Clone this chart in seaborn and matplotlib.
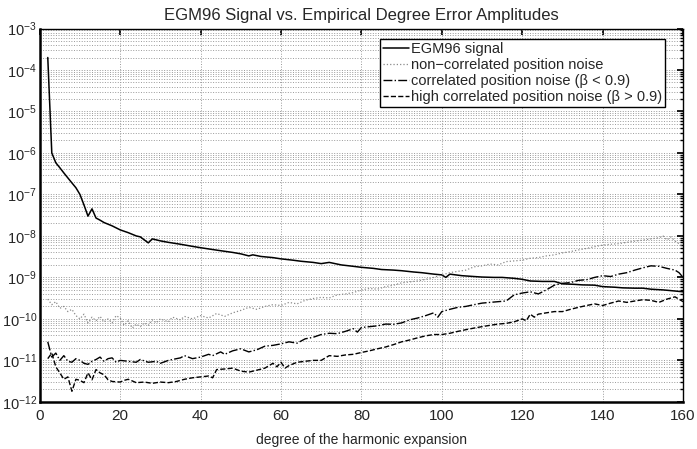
import numpy as np
import pandas as pd
import matplotlib
matplotlib.use("Agg")
import matplotlib.pyplot as plt
import seaborn as sns
from matplotlib.ticker import LogLocator, LogFormatterMathtext, NullFormatter

# ---- data (degree n, amplitude) ----
sig_deg = [2, 3, 4, 5, 6, 7, 8, 9, 10, 11, 12, 13, 14, 15, 16, 18, 20, 22, 24, 25, 27, 28,
           30, 32, 35, 38, 40, 43, 45, 48, 50, 52, 53, 55, 58, 60, 63, 65, 68, 70, 72, 75,
           78, 80, 83, 85, 88, 90, 93, 95, 98, 100, 101, 102, 105, 108, 110, 113, 115, 118,
           120, 122, 125, 128, 130, 133, 135, 138, 140, 143, 145, 148, 150, 152, 155, 157, 160]
sig_val = [2.0e-4, 1.0e-6, 5.8e-7, 4.4e-7, 3.3e-7, 2.5e-7, 1.9e-7, 1.45e-7, 1.0e-7, 5.6e-8,
           3.0e-8, 4.5e-8, 2.7e-8, 2.4e-8, 2.1e-8, 1.75e-8, 1.4e-8, 1.2e-8, 1.0e-8, 9.5e-9,
           6.8e-9, 8.5e-9, 7.6e-9, 7.0e-9, 6.3e-9, 5.6e-9, 5.2e-9, 4.7e-9, 4.4e-9, 4.0e-9,
           3.7e-9, 3.3e-9, 3.5e-9, 3.2e-9, 3.0e-9, 2.8e-9, 2.6e-9, 2.45e-9, 2.3e-9, 2.15e-9,
           2.3e-9, 2.0e-9, 1.85e-9, 1.75e-9, 1.65e-9, 1.55e-9, 1.5e-9, 1.45e-9, 1.35e-9,
           1.3e-9, 1.2e-9, 1.15e-9, 1.0e-9, 1.2e-9, 1.1e-9, 1.05e-9, 1.02e-9, 1.0e-9, 1.0e-9,
           9.5e-10, 9.0e-10, 8.2e-10, 8.0e-10, 8.0e-10, 7.0e-10, 6.8e-10, 6.6e-10, 6.5e-10,
           6.0e-10, 5.8e-10, 5.6e-10, 5.5e-10, 5.5e-10, 5.2e-10, 5.0e-10, 4.8e-10, 4.5e-10]

noise_deg = [2, 3, 4, 5, 6, 7, 8, 9, 10, 11, 12, 13, 14, 15, 16, 17, 18, 19, 20, 21, 22, 23,
             24, 25, 26, 27, 28, 29, 30, 32, 33, 35, 36, 38, 40, 42, 44, 46, 48, 50, 52, 54,
             56, 58, 60, 62, 64, 66, 68, 70, 72, 74, 76, 78, 80, 82, 84, 86, 88, 90, 92, 94,
             96, 98, 100, 102, 104, 106, 108, 110, 112, 114, 116, 118, 120, 122, 124, 126,
             128, 130, 132, 134, 136, 138, 140, 142, 144, 146, 148, 150, 152, 154, 155, 156,
             157, 158, 159, 160]
noise_val = [3.0e-10, 2.2e-10, 2.6e-10, 1.8e-10, 2.0e-10, 1.5e-10, 1.7e-10, 1.2e-10, 1.0e-10,
             1.3e-10, 8.0e-11, 1.1e-10, 9.0e-11, 1.15e-10, 8.5e-11, 1.0e-10, 8.0e-11, 1.2e-10,
             1.05e-10, 7.0e-11, 9.0e-11, 6.0e-11, 7.5e-11, 6.5e-11, 8.0e-11, 7.0e-11, 9.5e-11,
             8.0e-11, 1.0e-10, 8.5e-11, 1.1e-10, 9.5e-11, 1.15e-10, 1.0e-10, 1.2e-10, 1.05e-10,
             1.35e-10, 1.15e-10, 1.4e-10, 1.6e-10, 1.9e-10, 1.7e-10, 2.0e-10, 2.2e-10, 2.1e-10,
             2.5e-10, 2.3e-10, 2.8e-10, 3.1e-10, 3.3e-10, 3.2e-10, 3.8e-10, 4.0e-10, 4.3e-10,
             5.0e-10, 5.4e-10, 5.2e-10, 6.0e-10, 6.5e-10, 7.4e-10, 7.8e-10, 8.2e-10, 9.0e-10,
             1.0e-9, 1.15e-9, 1.3e-9, 1.4e-9, 1.5e-9, 1.8e-9, 1.9e-9, 2.1e-9, 2.0e-9, 2.4e-9,
             2.5e-9, 2.6e-9, 2.9e-9, 3.0e-9, 3.3e-9, 3.5e-9, 3.9e-9, 4.2e-9, 4.6e-9, 5.0e-9,
             5.5e-9, 6.0e-9, 6.3e-9, 6.5e-9, 7.0e-9, 7.5e-9, 7.9e-9, 8.5e-9, 9.0e-9, 1.0e-8,
             8.0e-9, 9.5e-9, 7.5e-9, 6.5e-9, 5.5e-9]

corr_deg = [2, 3, 4, 5, 6, 7, 8, 9, 10, 11, 12, 13, 14, 15, 16, 17, 18, 19, 20, 22, 24, 25,
            27, 29, 30, 32, 33, 35, 36, 38, 40, 42, 43, 45, 46, 48, 50, 52, 54, 56, 58, 60,
            62, 64, 66, 68, 70, 72, 74, 76, 78, 79, 80, 82, 84, 86, 88, 90, 92, 94, 96, 98,
            99, 100, 102, 104, 106, 108, 110, 112, 114, 116, 118, 120, 122, 124, 126, 128,
            130, 132, 134, 136, 138, 140, 142, 144, 146, 148, 150, 152, 154, 156, 158, 159, 160]
corr_val = [2.8e-11, 1.2e-11, 1.5e-11, 1.0e-11, 1.3e-11, 9.5e-12, 9.0e-12, 1.1e-11, 1.0e-11,
            8.5e-12, 8.0e-12, 9.5e-12, 1.05e-11, 1.2e-11, 9.5e-12, 1.1e-11, 1.15e-11, 9.0e-12,
            1.0e-11, 9.5e-12, 9.0e-12, 1.05e-11, 9.0e-12, 9.5e-12, 8.5e-12, 1.0e-11, 1.05e-11,
            1.15e-11, 1.3e-11, 1.1e-11, 1.2e-11, 1.4e-11, 1.3e-11, 1.6e-11, 1.4e-11, 1.7e-11,
            1.9e-11, 1.6e-11, 1.8e-11, 2.2e-11, 2.3e-11, 2.5e-11, 2.8e-11, 2.6e-11, 3.3e-11,
            3.6e-11, 4.2e-11, 4.5e-11, 4.4e-11, 5.0e-11, 5.8e-11, 4.8e-11, 6.2e-11, 6.5e-11,
            6.8e-11, 7.5e-11, 7.4e-11, 8.0e-11, 9.5e-11, 1.05e-10, 1.2e-10, 1.4e-10, 1.1e-10,
            1.5e-10, 1.7e-10, 1.9e-10, 2.0e-10, 2.2e-10, 2.4e-10, 2.5e-10, 2.6e-10, 2.7e-10,
            3.8e-10, 4.2e-10, 4.5e-10, 4.0e-10, 5.0e-10, 6.5e-10, 7.2e-10, 7.5e-10, 8.5e-10,
            8.8e-10, 1.0e-9, 1.1e-9, 1.05e-9, 1.2e-9, 1.3e-9, 1.5e-9, 1.7e-9, 1.9e-9, 1.85e-9,
            1.65e-9, 1.5e-9, 1.3e-9, 1.0e-9]

high_deg = [2, 3, 4, 5, 6, 7, 8, 9, 10, 11, 12, 13, 14, 15, 16, 17, 18, 20, 21, 22, 23, 24,
            26, 28, 30, 32, 34, 36, 38, 40, 42, 43, 44, 46, 48, 50, 52, 54, 56, 58, 59, 60,
            61, 62, 64, 66, 68, 70, 72, 74, 76, 78, 80, 82, 84, 86, 88, 90, 92, 94, 96, 98,
            100, 102, 104, 106, 108, 110, 112, 114, 116, 118, 120, 121, 122, 123, 124, 126,
            128, 130, 132, 134, 136, 138, 140, 142, 144, 146, 148, 150, 152, 154, 156, 158, 160]
high_val = [1.1e-11, 1.5e-11, 7.0e-12, 5.0e-12, 3.5e-12, 4.0e-12, 1.8e-12, 3.5e-12, 3.3e-12,
            2.9e-12, 5.0e-12, 3.4e-12, 6.0e-12, 5.0e-12, 4.5e-12, 3.4e-12, 3.1e-12, 3.0e-12,
            3.3e-12, 3.5e-12, 3.2e-12, 2.9e-12, 3.0e-12, 2.8e-12, 3.0e-12, 2.9e-12, 3.1e-12,
            3.5e-12, 3.8e-12, 4.0e-12, 4.2e-12, 3.8e-12, 6.0e-12, 6.2e-12, 6.5e-12, 5.5e-12,
            5.2e-12, 5.8e-12, 6.5e-12, 8.5e-12, 7.0e-12, 9.0e-12, 6.5e-12, 7.5e-12, 9.0e-12,
            9.5e-12, 1.0e-11, 1.0e-11, 1.3e-11, 1.25e-11, 1.35e-11, 1.4e-11, 1.55e-11, 1.7e-11,
            1.9e-11, 2.1e-11, 2.4e-11, 2.8e-11, 3.1e-11, 3.5e-11, 3.9e-11, 4.2e-11, 4.2e-11,
            4.5e-11, 5.0e-11, 5.5e-11, 6.0e-11, 6.5e-11, 7.0e-11, 7.5e-11, 7.8e-11, 8.5e-11,
            1.0e-10, 9.0e-11, 1.3e-10, 1.1e-10, 1.3e-10, 1.4e-10, 1.5e-10, 1.5e-10, 1.7e-10,
            1.9e-10, 2.1e-10, 2.3e-10, 2.1e-10, 2.4e-10, 2.7e-10, 2.5e-10, 2.7e-10, 2.9e-10,
            2.8e-10, 2.5e-10, 3.0e-10, 3.4e-10, 2.6e-10]

y_ticks = [1e-12, 1e-11, 1e-10, 1e-9, 1e-8, 1e-7, 1e-6, 1e-5, 1e-4, 1e-3]
x_ticks = [0, 20, 40, 60, 80, 100, 120, 140, 160]

labels = ["EGM96 signal",
          "non\u2212correlated position noise",
          "correlated position noise (\u03b2 < 0.9)",
          "high correlated position noise (\u03b2 > 0.9)"]

sns.set_theme(style="white")
plt.rcParams['font.family'] = ['Liberation Sans', 'DejaVu Sans']
plt.rcParams['mathtext.fontset'] = 'custom'
plt.rcParams['mathtext.rm'] = 'Liberation Sans'
plt.rcParams['mathtext.it'] = 'Liberation Sans:italic'

fig = plt.figure(figsize=(6.97, 4.49), dpi=100)
ax = fig.add_axes([0.057, 0.105, 0.923, 0.8315])

sns.lineplot(x=sig_deg, y=sig_val, ax=ax, color="black", lw=1.1, label=labels[0])
sns.lineplot(x=noise_deg, y=noise_val, ax=ax, color="#8a8a8a", lw=0.9, linestyle=":", label=labels[1])
sns.lineplot(x=corr_deg, y=corr_val, ax=ax, color="black", lw=1.0, linestyle="-.", label=labels[2])
sns.lineplot(x=high_deg, y=high_val, ax=ax, color="black", lw=1.0, linestyle="--", label=labels[3])

ax.set_yscale("log")
ax.set_xlim(0, 160)
ax.set_ylim(1e-12, 1e-3)
ax.set_xticks(x_ticks)
ax.set_yticks(y_ticks)
ax.yaxis.set_minor_locator(LogLocator(base=10, subs=np.arange(2, 10), numticks=20))
ax.yaxis.set_major_formatter(LogFormatterMathtext())
ax.yaxis.set_minor_formatter(NullFormatter())

ax.grid(True, which="major", axis="both", color="#9a9a9a", linestyle=":", lw=0.7)
ax.grid(True, which="minor", axis="y", color="#9a9a9a", linestyle=":", lw=0.7)
ax.tick_params(which="both", direction="in", top=True, right=True, color="black")
ax.tick_params(axis="y", labelsize=10.5, pad=2)
ax.tick_params(axis="x", labelsize=11, pad=5)
ax.tick_params(which="major", length=4)
ax.tick_params(which="minor", length=2)
for sp in ax.spines.values():
    sp.set_color("black")
    sp.set_linewidth(1.0)
ax.spines["bottom"].set_linewidth(1.8)
ax.spines["left"].set_linewidth(1.8)

ax.set_title("EGM96 Signal vs. Empirical Degree Error Amplitudes", fontsize=12, pad=6)
ax.set_xlabel("degree of the harmonic expansion", fontsize=10, labelpad=7)
ax.set_ylabel("")

leg = ax.legend(loc="upper right", bbox_to_anchor=(0.979, 0.984), fontsize=10.5,
                handlelength=1.8, handletextpad=0.15, borderpad=0.2, labelspacing=0.15,
                frameon=True, fancybox=False, framealpha=1.0, borderaxespad=0.3)
leg.get_frame().set_edgecolor("black")
leg.get_frame().set_linewidth(1.0)

fig.savefig("out.png", dpi=100)
